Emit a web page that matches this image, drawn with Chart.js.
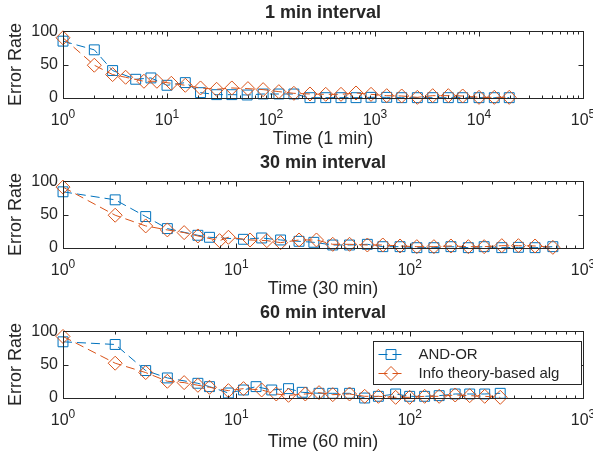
<!DOCTYPE html>
<html>
<head>
<meta charset="utf-8">
<script src="https://cdn.jsdelivr.net/npm/chart.js@4.4.0/dist/chart.umd.min.js"></script>
<style>
  html, body { margin: 0; padding: 0; background: #fff; }
  #wrap { position: relative; width: 593px; height: 458px; }
  canvas { position: absolute; left: 0; }
</style>
</head>
<body>
<div id="wrap">
  <canvas id="c1" width="593" height="150" style="top:0px"></canvas>
  <canvas id="c2" width="593" height="150" style="top:150px"></canvas>
  <canvas id="c3" width="593" height="158" style="top:300px"></canvas>
</div>
<script>
// ---- data ----
const seriesNames = ["AND-OR", "Info theory-based alg"];
const titles = ["1 min interval", "30 min interval", "60 min interval"];
const xTitles = ["Time (1 min)", "Time (30 min)", "Time (60 min)"];
const yTicks = [0, 50, 100];

// 1 min interval
const x1AndOr = [1, 2, 3, 5, 7, 10, 15, 21, 30, 42, 59, 84, 119, 166, 237, 336, 471, 657, 916, 1296, 1806, 2553, 3589, 5070, 6970, 10000, 14030, 19530];
const y1AndOr = [85, 72, 41, 28, 30, 19, 23, 8, 5, 5, 4.5, 6, 6, 6, 0.5, 0.5, 0.5, 0.5, 1, 1, 0.5, 0.5, 0.5, 0.5, 0.5, 0.5, 0.5, 0.5];
const x1Info = [1, 2, 3, 4, 6, 8, 11, 15, 21, 30, 42, 60, 84, 119, 166, 237, 336, 471, 657, 916, 1296, 1806, 2553, 3589, 5070, 6970, 10000, 14030, 19530];
const y1Info = [90, 49, 35, 31, 25, 25, 22, 19, 15, 13, 15, 14, 12.5, 9.5, 7, 6, 5.5, 5.5, 7.5, 5.5, 3.5, 3, 1, 3.5, 3.5, 3, 1, 1, 1];

// 30 min interval
const x2AndOr = [1, 2, 3, 4, 6, 7, 11, 14, 18, 23, 28, 36, 45, 57, 70, 88, 110, 138, 173, 218, 269, 340, 424, 529, 670];
const y2AndOr = [84, 72, 47, 29, 19, 16, 13, 15, 12, 10, 8.5, 4.5, 4.5, 5.5, 2, 2, 0.5, 0.5, 2, 0.5, 2, 0.5, 1, 0.5, 2];
const x2Info = [1, 2, 3, 4, 5, 6, 8, 9, 12, 15, 18, 23, 29, 36, 45, 57, 70, 88, 110, 138, 173, 218, 269, 340, 424, 529, 670];
const y2Info = [91, 49, 33, 27, 23, 18, 11, 16, 12, 11, 8, 12, 12, 5.5, 5.5, 4.5, 4.5, 3, 2, 2, 3, 2, 2, 3.5, 3.5, 3, 1];

// 60 min interval
const x3AndOr = [1, 2, 3, 4, 6, 7, 9, 11, 13, 16, 20, 24, 30, 36, 45, 55, 66, 83, 100, 122, 148, 183, 222, 271, 333];
const y3AndOr = [84, 80, 41, 30, 22, 17, 7.5, 12, 17, 12, 14, 8.5, 7, 7, 7, 0, 2.5, 6, 2.5, 2.5, 3.5, 6, 6, 6, 7];
const x3Info = [1, 2, 3, 4, 5, 6, 7, 9, 11, 14, 17, 20, 25, 30, 36, 45, 55, 66, 83, 100, 122, 148, 183, 222, 271, 333];
const y3Info = [92, 52, 38, 25, 23, 19, 16, 11, 14, 12, 6, 4, 6, 8, 5, 6, 2.5, 2.5, 1, 1, 2.5, 2.5, 4.5, 3.5, 2.5, 1];

const xMax = [1e5, 1e3, 1e3];

const blue = "#0072BD";
const orange = "#D95319";
const ink = "#262626";
const fontFamily = "'Liberation Sans', Arial, Helvetica, sans-serif";

Chart.defaults.font.family = fontFamily;
Chart.defaults.color = ink;

function toPoints(xs, ys) {
  return xs.map((x, i) => ({ x: x, y: ys[i] }));
}

// draws the matlab-like box, inward ticks, 10^k labels and (optionally) legend
const matlabAxes = {
  id: "matlabAxes",
  afterDraw(chart, args, opts) {
    const ctx = chart.ctx;
    const area = chart.chartArea;
    const xs = chart.scales.x;
    const ys = chart.scales.y;
    const L = Math.round(area.left) + 0.5;
    const R = Math.round(area.right) + 0.5;
    const T = Math.round(area.top) + 0.5;
    const B = Math.round(area.bottom) + 0.5;

    ctx.save();
    ctx.strokeStyle = ink;
    ctx.lineWidth = 1;
    ctx.strokeRect(L, T, R - L, B - T);

    ctx.beginPath();
    const maxExp = Math.round(Math.log10(xs.max));
    for (let k = 0; k <= maxExp; k++) {
      for (let d = 1; d <= 9; d++) {
        const v = d * Math.pow(10, k);
        if (v > xs.max) break;
        const px = Math.round(xs.getPixelForValue(v)) + 0.5;
        const len = d === 1 ? 5 : 3;
        ctx.moveTo(px, B); ctx.lineTo(px, B - len);
        ctx.moveTo(px, T); ctx.lineTo(px, T + len);
      }
    }
    yTicks.forEach((t) => {
      const py = Math.round(ys.getPixelForValue(t)) + 0.5;
      ctx.moveTo(L, py); ctx.lineTo(L + 5, py);
      ctx.moveTo(R, py); ctx.lineTo(R - 5, py);
    });
    ctx.stroke();

    // 10^k tick labels
    ctx.fillStyle = ink;
    ctx.textBaseline = "alphabetic";
    ctx.textAlign = "left";
    for (let k = 0; k <= maxExp; k++) {
      const px = xs.getPixelForValue(Math.pow(10, k));
      ctx.font = "16px " + fontFamily;
      const w1 = ctx.measureText("10").width;
      ctx.font = "12px " + fontFamily;
      const w2 = ctx.measureText(String(k)).width;
      const start = px - (w1 + w2) / 2;
      ctx.font = "16px " + fontFamily;
      ctx.fillText("10", start, B + 26);
      ctx.font = "12px " + fontFamily;
      ctx.fillText(String(k), start + w1, B + 19);
    }

    if (opts.legend) {
      const w = 208, h = 43;
      const lx = Math.round(area.right - 2 - w) + 0.5;
      const ly = Math.round(area.top + 10) + 0.5;
      ctx.fillStyle = "#fff";
      ctx.fillRect(lx, ly, w, h);
      ctx.strokeStyle = ink;
      ctx.strokeRect(lx, ly, w, h);
      const items = [
        { label: seriesNames[0], color: blue, style: "rect" },
        { label: seriesNames[1], color: orange, style: "rectRot" }
      ];
      items.forEach((it, i) => {
        const cy = ly + 13 + i * 19;
        ctx.strokeStyle = it.color;
        ctx.lineWidth = 1;
        ctx.setLineDash([9, 5]);
        ctx.beginPath();
        ctx.moveTo(lx + 5, cy);
        ctx.lineTo(lx + 30, cy);
        ctx.stroke();
        ctx.setLineDash([]);
        ctx.fillStyle = "rgba(0,0,0,0)";
        Chart.helpers.drawPoint(ctx, { pointStyle: it.style, radius: 7, rotation: 0, borderWidth: 1 }, lx + 17.5, cy);
        ctx.fillStyle = ink;
        ctx.font = "15px " + fontFamily;
        ctx.textBaseline = "middle";
        ctx.fillText(it.label, lx + 45, cy);
      });
    }
    ctx.restore();
  }
};

function makeChart(id, idx, xa, ya, xb, yb, canvasH, legend) {
  const ctx = document.getElementById(id).getContext("2d");
  return new Chart(ctx, {
    type: "line",
    data: {
      datasets: [
        {
          label: seriesNames[0],
          data: toPoints(xa, ya),
          borderColor: blue,
          borderWidth: 1,
          borderDash: [9, 5],
          pointStyle: "rect",
          pointRadius: 7,
          pointBorderWidth: 1,
          pointBorderColor: blue,
          pointBackgroundColor: "rgba(0,0,0,0)",
          fill: false,
          tension: 0,
          clip: false,
          order: 2
        },
        {
          label: seriesNames[1],
          data: toPoints(xb, yb),
          borderColor: orange,
          borderWidth: 1,
          borderDash: [9, 5],
          pointStyle: "rectRot",
          pointRadius: 7,
          pointBorderWidth: 1,
          pointBorderColor: orange,
          pointBackgroundColor: "rgba(0,0,0,0)",
          fill: false,
          tension: 0,
          clip: false,
          order: 1
        }
      ]
    },
    options: {
      responsive: false,
      animation: false,
      devicePixelRatio: 1,
      layout: { padding: { left: 0, right: 10, top: 0, bottom: 0 } },
      scales: {
        x: {
          type: "logarithmic",
          min: 1,
          max: xMax[idx],
          grid: { display: false, drawTicks: false },
          border: { display: false },
          ticks: { display: false },
          title: {
            display: true,
            text: xTitles[idx],
            font: { size: 18 },
            color: ink,
            padding: { top: 0, bottom: canvasH > 150 ? 5 : 0 }
          },
          afterFit: (scale) => { scale.height = canvasH - 98; }
        },
        y: {
          min: 0,
          max: 100,
          grid: { display: false, drawTicks: false },
          border: { display: false },
          ticks: { stepSize: 50, padding: 5, font: { size: 16 }, color: ink },
          title: {
            display: true,
            text: "Error Rate",
            font: { size: 18 },
            color: ink,
            padding: { top: 5, bottom: 0 }
          },
          afterFit: (scale) => { scale.width = 63; }
        }
      },
      plugins: {
        legend: { display: false },
        tooltip: { enabled: false },
        title: {
          display: true,
          text: titles[idx],
          fullSize: false,
          color: ink,
          font: { size: 18, weight: "bold" },
          padding: { top: 2.5, bottom: 7 }
        },
        matlabAxes: { legend: legend }
      }
    },
    plugins: [matlabAxes]
  });
}

makeChart("c1", 0, x1AndOr, y1AndOr, x1Info, y1Info, 150, false);
makeChart("c2", 1, x2AndOr, y2AndOr, x2Info, y2Info, 150, false);
makeChart("c3", 2, x3AndOr, y3AndOr, x3Info, y3Info, 158, true);
</script>
</body>
</html>
